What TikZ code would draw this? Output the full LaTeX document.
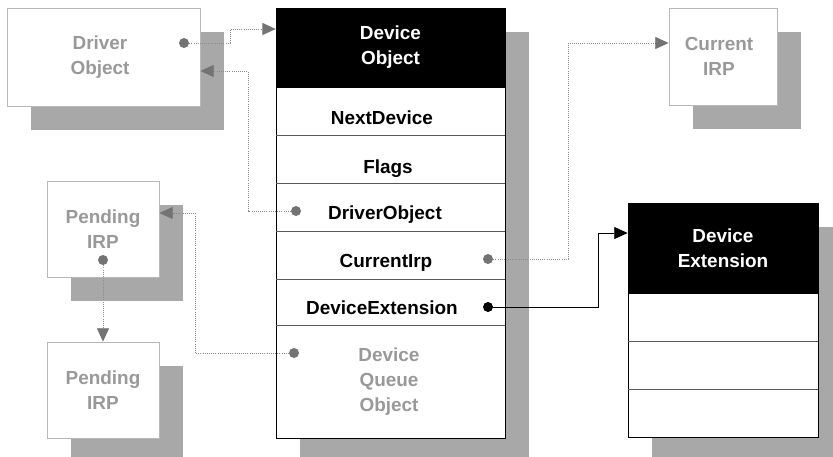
\documentclass[tikz,border=0pt]{standalone}
\usepackage{fontspec}
\setmainfont{Liberation Sans}
\usetikzlibrary{arrows.meta,calc}
\definecolor{shadowgray}{gray}{0.66}
\definecolor{lightline}{gray}{0.72}
\definecolor{graytext}{gray}{0.6}
\definecolor{dotgray}{gray}{0.45}
\definecolor{linkgray}{gray}{0.55}
\begin{document}
\begin{tikzpicture}[x=0.75pt,y=-0.75pt,
  font=\bfseries\fontsize{14.2}{18.6}\selectfont,
  px/.style 2 args={minimum width=#1*0.75pt, minimum height=#2*0.75pt},
  shadowbox/.style={fill=shadowgray},
  graybox/.style={draw=lightline, line width=0.6pt, fill=white, text=graytext, align=center, inner sep=0pt},
  framebox/.style={draw=black, line width=0.6pt, fill=white, inner sep=0pt},
  hdrbox/.style={draw=black, fill=black, text=white, align=center, inner sep=0pt},
  rowtext/.style={anchor=base, text=black, inner sep=0pt},
  divider/.style={draw=black!65, line width=0.5pt},
  gdot/.style={circle, fill=dotgray, inner sep=0pt, minimum size=7.5pt},
  bdot/.style={circle, fill=black, inner sep=0pt, minimum size=7.5pt},
  glink/.style={draw=linkgray, densely dotted, line width=0.6pt,
    -{Triangle[length=10pt,width=9pt,fill=dotgray,color=dotgray]}},
  blink/.style={draw=black, line width=0.6pt, -{Triangle[length=10pt,width=9pt]}}
]
\useasboundingbox (0,0) rectangle (833,457);
\clip (0,0) rectangle (833,457);
\fill[white] (0,0) rectangle (833,457);

% shadows
\fill[shadowbox] (31,32) rectangle (224,130);
\fill[shadowbox] (300,32) rectangle (529,462);
\fill[shadowbox] (693,32) rectangle (801,129);
\fill[shadowbox] (71,205) rectangle (183,301);
\fill[shadowbox] (71,366) rectangle (183,462);
\fill[shadowbox] (652,227) rectangle (842,461);

% gray boxes
\node[graybox, px={193}{98}] (drvbox) at (103.5,57) {};
\node[text=graytext, align=center, inner sep=0pt] (drvtext) at (100,57) {Driver\\Object};
\node[graybox, px={108}{97}] (irpbox) at (723,56.5) {};
\node[text=graytext, align=center, inner sep=0pt] (irptext) at (719,56.5) {Current\\IRP};
\node[graybox, px={112}{96}] (pend1) at (103,229) {Pending\\IRP};
\node[graybox, px={112}{96}] (pend2) at (103,390) {Pending\\IRP};

% device object
\node[framebox, px={229}{430}] (devobj) at (390.5,223) {};
\node[hdrbox, px={229}{79}] (devhdr) at (390.5,47.5) {Device\\Object};
\draw[divider] (276,135) -- (505,135);
\draw[divider] (276,183) -- (505,183);
\draw[divider] (276,231) -- (505,231);
\draw[divider] (276,279) -- (505,279);
\draw[divider] (276,325) -- (505,325);
\node[rowtext] (tnext) at (382,124) {NextDevice};
\node[rowtext] (tflags) at (388,173) {Flags};
\node[rowtext] (tdrv) at (385,219) {DriverObject};
\node[rowtext] (tirp) at (386,267) {CurrentIrp};
\node[rowtext] (text) at (382,314) {DeviceExtension};
\node[text=graytext, align=center, inner sep=0pt] (tqueue) at (389,381.5) {Device\\Queue\\Object};

% device extension
\node[framebox, px={190}{234}] (extbox) at (723,320) {};
\node[hdrbox, px={190}{90}] (exthdr) at (723,248) {Device\\Extension};
\draw[divider] (628,341) -- (818,341);
\draw[divider] (628,389) -- (818,389);

% dots
\node[gdot] (d1) at (184,43) {};
\node[gdot] (d2) at (296,211) {};
\node[gdot] (d3) at (488,259) {};
\node[bdot] (d4) at (488,307) {};
\node[gdot] (d5) at (294,353) {};
\node[gdot] (d6) at (103,260) {};

% bend points
\coordinate (b1) at (230,43);
\coordinate (b1t) at (230,29);
\coordinate (b2) at (248,211);
\coordinate (b2t) at (248,71);
\coordinate (b3) at (568,259);
\coordinate (b3t) at (568,43);
\coordinate (b4) at (598,307);
\coordinate (b4t) at (598,233);
\coordinate (b5) at (195,353);
\coordinate (b5t) at (195,213);

% connectors
\draw[glink] (d1) -- (b1) -- (b1t) -- (devhdr.west |- b1t);
\draw[glink] (d2) -- (b2) -- (b2t) -- (drvbox.east |- b2t);
\draw[glink] (d3) -- (b3) -- (b3t) -- (irpbox.west |- b3t);
\draw[blink] (d4) -- (b4) -- (b4t) -- (extbox.west |- b4t);
\draw[glink] (d5) -- (b5) -- (b5t) -- (pend1.east |- b5t);
\draw[glink] (d6) -- (pend2.north);
\end{tikzpicture}
\end{document}
